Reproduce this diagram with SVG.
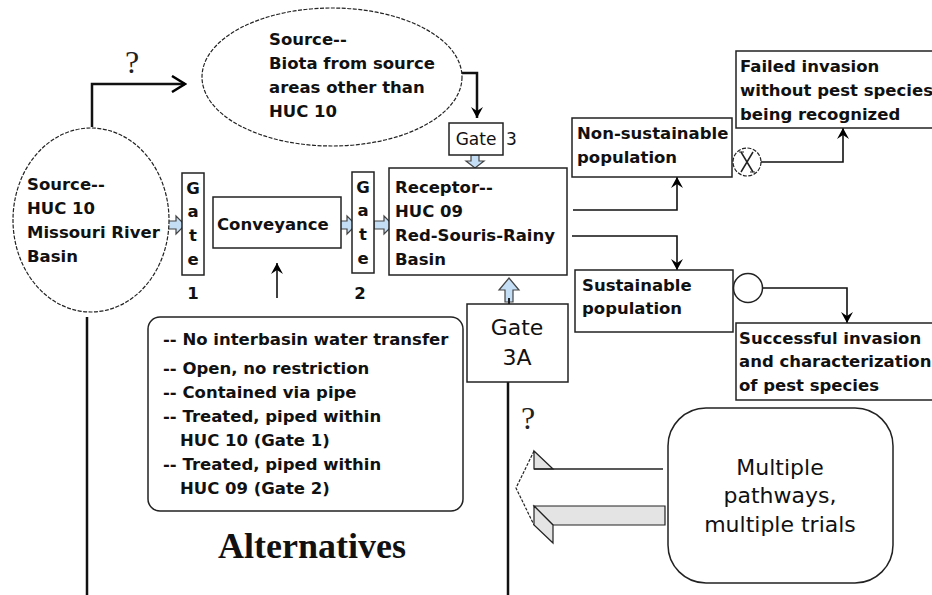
<svg xmlns="http://www.w3.org/2000/svg" width="932" height="595" viewBox="0 0 932 595">
<defs>
<marker id="ah" markerWidth="12" markerHeight="14" refX="11" refY="7" orient="auto" markerUnits="userSpaceOnUse">
<path d="M0,1 L11,7 L0,13 L4,7 z" fill="#000"/>
</marker>
<marker id="av" markerWidth="16" markerHeight="18" refX="14" refY="9" orient="auto" markerUnits="userSpaceOnUse">
<path d="M1,1 L14,9 L1,17" fill="none" stroke="#000" stroke-width="2.5"/>
</marker>
</defs>
<style>
.b{font-family:"DejaVu Sans","Liberation Sans",sans-serif;font-weight:bold;font-size:16.5px;fill:#111}
.r17{font-family:"DejaVu Sans","Liberation Sans",sans-serif;font-size:17px;fill:#111}
.r21{font-family:"DejaVu Sans","Liberation Sans",sans-serif;font-size:22px;fill:#111}
.box{fill:#fff;stroke:#222;stroke-width:1.5}
.dash{fill:#fff;stroke:#222;stroke-width:1.2;stroke-dasharray:4 1.5}
.ln{fill:none;stroke:#111;stroke-width:1.6}
.thick{fill:none;stroke:#111;stroke-width:2.5}
.blue{fill:#c4def5;stroke:#444;stroke-width:1.2}
.gray{fill:#e4e4e4;stroke:#222;stroke-width:1.2}
.q{font-family:"Liberation Serif",serif;font-size:32px;fill:#222}
</style>
<rect width="932" height="595" fill="#fff"/>

<g id="connectors">
<polyline class="thick" points="92,127 92,84 185,84" marker-end="url(#av)"/>
<polyline class="thick" points="462,73 477,73 477,118" marker-end="url(#ah)"/>
<line class="thick" x1="87" y1="317" x2="87" y2="595"/>
<line class="thick" x1="508" y1="382" x2="508" y2="595"/>
<line class="ln" x1="277" y1="298" x2="277" y2="263" marker-end="url(#ah)"/>
<polyline class="ln" points="573,210 677,210 677,177" marker-end="url(#ah)"/>
<polyline class="ln" points="572,236 677,236 677,270" marker-end="url(#ah)"/>
<polyline class="ln" points="761,162 843,162 843,128" marker-end="url(#ah)"/>
<polyline class="ln" points="763,288 847,288 847,323" marker-end="url(#ah)"/>
<polygon class="blue" points="163,221 176,221 176,216 185,225 176,234 176,229 163,229"/>
<polygon class="blue" points="338,221 347,221 347,216 356,225 347,234 347,229 338,229"/>
<polygon class="blue" points="374,221 384,221 384,216 393,225 384,234 384,229 374,229"/>
<polygon class="blue" points="471,155 479,155 479,161 484,161 475,168 466,161 471,161"/>
<polygon class="blue" points="505,302 513,302 513,290 519,290 509,278 499,290 505,290"/>
<line x1="509" y1="298" x2="509" y2="304" stroke="#222" stroke-width="2"/>
</g>

<g id="question1"><text class="q" x="132" y="73" text-anchor="middle">?</text></g>
<g id="question2"><text class="q" x="528" y="429" text-anchor="middle">?</text></g>

<g id="source-other">
<ellipse class="dash" cx="332" cy="77" rx="130" ry="69"/>
<text class="b" x="269" y="45">Source--</text>
<text class="b" x="269" y="69">Biota from source</text>
<text class="b" x="269" y="93">areas other than</text>
<text class="b" x="269" y="117">HUC 10</text>
</g>

<g id="source-huc10">
<ellipse class="dash" cx="91" cy="220" rx="78" ry="92"/>
<text class="b" x="27" y="190">Source--</text>
<text class="b" x="27" y="214">HUC 10</text>
<text class="b" x="27" y="238">Missouri River</text>
<text class="b" x="27" y="262">Basin</text>
</g>

<g id="gate1">
<rect class="box" x="182" y="173" width="22" height="102"/>
<text class="b" x="193" y="194" text-anchor="middle">G</text>
<text class="b" x="193" y="217" text-anchor="middle">a</text>
<text class="b" x="193" y="241" text-anchor="middle">t</text>
<text class="b" x="193" y="265" text-anchor="middle">e</text>
<text class="b" x="193" y="299" text-anchor="middle">1</text>
</g>

<g id="conveyance">
<rect class="box" x="213" y="197" width="128" height="51"/>
<text class="b" x="217" y="230">Conveyance</text>
</g>

<g id="gate2">
<rect class="box" x="352" y="172" width="22" height="101"/>
<text class="b" x="363" y="193" text-anchor="middle">G</text>
<text class="b" x="363" y="216" text-anchor="middle">a</text>
<text class="b" x="363" y="240" text-anchor="middle">t</text>
<text class="b" x="363" y="264" text-anchor="middle">e</text>
<text class="b" x="360" y="299" text-anchor="middle">2</text>
</g>

<g id="receptor">
<rect class="box" x="389" y="168" width="178" height="107"/>
<text class="b" x="395" y="193">Receptor--</text>
<text class="b" x="395" y="217">HUC 09</text>
<text class="b" x="395" y="241">Red-Souris-Rainy</text>
<text class="b" x="395" y="265">Basin</text>
</g>

<g id="gate3">
<rect class="box" x="449" y="123" width="54" height="32"/>
<text class="r17" x="476" y="145" text-anchor="middle">Gate</text>
<text class="r17" x="506" y="145">3</text>
</g>

<g id="nonsustainable">
<rect class="box" x="572" y="118" width="160" height="59"/>
<text class="b" x="577" y="139">Non-sustainable</text>
<text class="b" x="577" y="163">population</text>
</g>

<g id="failed">
<rect class="box" x="736" y="51" width="210" height="77"/>
<text class="b" x="740" y="72">Failed invasion</text>
<text class="b" x="740" y="96">without pest species</text>
<text class="b" x="740" y="120">being recognized</text>
</g>

<g id="x-circle">
<circle class="dash" cx="747" cy="162" r="14"/>
<path d="M741,152 L753,172 M753,152 L741,172" stroke="#222" stroke-width="1.5"/>
<path d="M739,152 L744,152 M750,172 L755,172" stroke="#222" stroke-width="1.2"/>
</g>

<g id="sustainable">
<rect class="box" x="575" y="270" width="158" height="62"/>
<text class="b" x="582" y="291">Sustainable</text>
<text class="b" x="582" y="314">population</text>
</g>

<g id="o-circle">
<circle class="box" cx="748" cy="288" r="14.5"/>
</g>

<g id="successful">
<rect class="box" x="736" y="323" width="210" height="77"/>
<text class="b" x="739" y="344">Successful invasion</text>
<text class="b" x="739" y="367">and characterization</text>
<text class="b" x="739" y="391">of pest species</text>
</g>

<g id="gate3a">
<rect class="box" x="467" y="304" width="101" height="78"/>
<text class="r21" x="517" y="335" text-anchor="middle">Gate</text>
<text class="r21" x="517" y="365" text-anchor="middle">3A</text>
</g>

<g id="alternatives">
<rect class="box" x="148" y="317" width="315" height="194" rx="12"/>
<text class="b" x="163" y="345">-- No interbasin water transfer</text>
<text class="b" x="163" y="374">-- Open, no restriction</text>
<text class="b" x="163" y="398">-- Contained via pipe</text>
<text class="b" x="163" y="422">-- Treated, piped within</text>
<text class="b" x="180" y="446">HUC 10 (Gate 1)</text>
<text class="b" x="163" y="470">-- Treated, piped within</text>
<text class="b" x="180" y="494">HUC 09 (Gate 2)</text>
</g>
<g id="alt-title">
<text x="312" y="558" text-anchor="middle" font-family="Liberation Serif,serif" font-weight="bold" font-size="36" fill="#111">Alternatives</text>
</g>

<g id="big-arrow">
<polygon class="gray" points="534,451 534,469 553,469"/>
<line x1="534" y1="469" x2="663" y2="469" stroke="#222" stroke-width="1.5"/>
<polyline points="534,451 516,488 534,525" fill="none" stroke="#222" stroke-width="1.2" stroke-dasharray="3 1.5"/>
<polygon class="gray" points="534,506 665,506 665,525 553,525"/>
<polygon class="gray" points="534,506 553,525 553,543 534,525"/>
</g>

<g id="multiple">
<rect class="box" x="668" y="408" width="225" height="175" rx="38"/>
<text class="r21" x="780" y="475" text-anchor="middle">Multiple</text>
<text class="r21" x="780" y="503" text-anchor="middle">pathways,</text>
<text class="r21" x="780" y="532" text-anchor="middle">multiple trials</text>
</g>
</svg>
